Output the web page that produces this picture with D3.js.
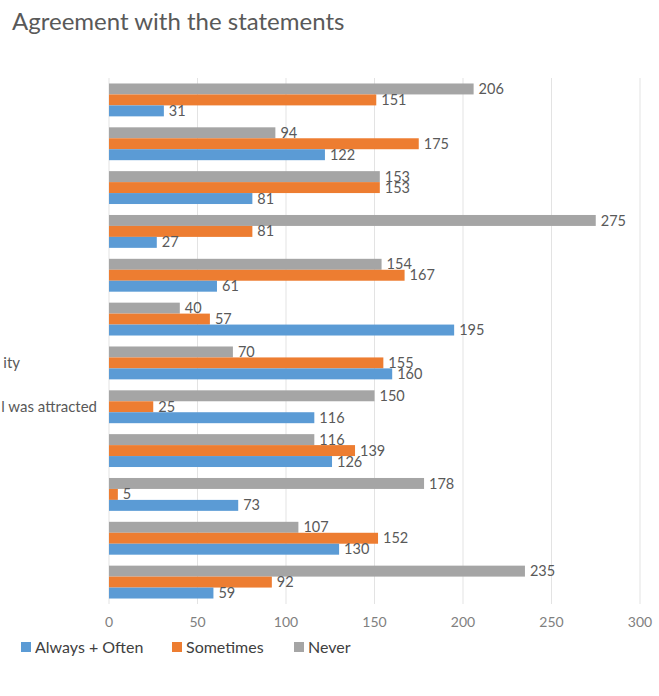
<!DOCTYPE html>
<html>
<head>
<meta charset="utf-8">
<script src="https://cdn.jsdelivr.net/npm/d3@7"></script>
<style>
  body { margin: 0; background: #fff; }
  svg { display: block; font-family: Lato, "Open Sans", sans-serif; }
</style>
</head>
<body>
<div id="chart"></div>
<script>
const width = 659;
const height = 696;

// categories top to bottom (labels are cut off in the source, only tails visible)
const categories = ["c1", "c2", "c3", "c4", "c5", "c6", "c7", "c8", "c9", "c10", "c11", "c12"];
const labelTails = ["", "", "", "", "", "", "ity", "l was attracted", "", "", "", ""];

const seriesNames = ["Never", "Sometimes", "Always + Often"];
const never     = [206, 94, 153, 275, 154, 40, 70, 150, 116, 178, 107, 235];
const sometimes = [151, 175, 153, 81, 167, 57, 155, 25, 139, 5, 152, 92];
const always    = [31, 122, 81, 27, 61, 195, 160, 116, 126, 73, 130, 59];

const ticks = [0, 50, 100, 150, 200, 250, 300];
const legendOrder = ["Always + Often", "Sometimes", "Never"];

const colors = {
    "Always + Often": "#5b9bd5",
    "Sometimes": "#ed7d31",
    "Never": "#a5a5a5"
};

const rows = categories.map((c, i) => ({
    cat: c,
    tail: labelTails[i],
    values: [
        { key: "Never", v: never[i] },
        { key: "Sometimes", v: sometimes[i] },
        { key: "Always + Often", v: always[i] }
    ]
}));

const svg = d3.select("#chart")
    .append("svg")
    .attr("width", width)
    .attr("height", height);

const x = d3.scaleLinear().domain([0, 300]).range([109, 640]);

const y = d3.scaleBand()
    .domain(categories)
    .range([78, 604])
    .paddingInner(0.25)
    .paddingOuter(0.125);

const ySub = d3.scaleBand()
    .domain(seriesNames)
    .range([0, y.bandwidth()]);

// title
svg.append("text")
    .attr("x", 12)
    .attr("y", 30)
    .attr("fill", "#595959")
    .style("font-size", "24px")
    .text("Agreement with the statements");

// gridlines
svg.append("g")
    .selectAll("line")
    .data(ticks)
    .join("line")
    .attr("x1", d => x(d))
    .attr("x2", d => x(d))
    .attr("y1", 78)
    .attr("y2", 604)
    .attr("stroke", "#e3e3e3")
    .attr("stroke-width", 1);

// tick labels
svg.append("g")
    .selectAll("text")
    .data(ticks)
    .join("text")
    .attr("x", d => x(d))
    .attr("y", 622)
    .attr("dy", "0.35em")
    .attr("text-anchor", "middle")
    .attr("fill", "#7f7f7f")
    .style("font-size", "14px")
    .text(d => d);

// category label fragments (the full labels run off the left edge)
const tailEnd = { "ity": 20, "l was attracted": 97 };
svg.append("g")
    .selectAll("text")
    .data(rows.filter(r => r.tail))
    .join("text")
    .attr("x", d => tailEnd[d.tail])
    .attr("y", d => y(d.cat) + y.bandwidth() / 2)
    .attr("dy", "0.35em")
    .attr("text-anchor", "end")
    .attr("fill", "#595959")
    .style("font-size", "15px")
    .text(d => d.tail);

const groups = svg.append("g")
    .selectAll("g")
    .data(rows)
    .join("g")
    .attr("transform", d => `translate(0,${y(d.cat)})`);

groups.selectAll("rect")
    .data(d => d.values)
    .join("rect")
    .attr("x", x(0))
    .attr("y", d => ySub(d.key))
    .attr("width", d => x(d.v) - x(0))
    .attr("height", ySub.bandwidth())
    .attr("fill", d => colors[d.key]);

groups.selectAll("text")
    .data(d => d.values)
    .join("text")
    .attr("x", d => x(d.v) + 5)
    .attr("y", d => ySub(d.key) + ySub.bandwidth() / 2)
    .attr("dy", "0.35em")
    .attr("fill", "#595959")
    .style("font-size", "14.5px")
    .text(d => d.v);

// legend
const legendX = [21, 172, 294];
const legend = svg.append("g")
    .selectAll("g")
    .data(legendOrder)
    .join("g")
    .attr("transform", (d, i) => `translate(${legendX[i]},647)`);

legend.append("rect")
    .attr("x", 0)
    .attr("y", -5)
    .attr("width", 10)
    .attr("height", 10)
    .attr("fill", d => colors[d]);

legend.append("text")
    .attr("x", 14)
    .attr("y", 0)
    .attr("dy", "0.35em")
    .attr("fill", "#404040")
    .style("font-size", "16px")
    .text(d => d);
</script>
</body>
</html>
